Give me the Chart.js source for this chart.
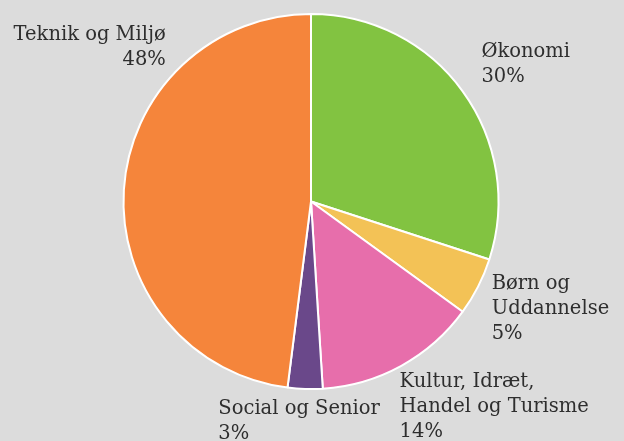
<!DOCTYPE html>
<html>
<head>
<meta charset="utf-8">
<script src="https://cdn.jsdelivr.net/npm/chart.js@4"></script>
<style>
	html, body { margin: 0; padding: 0; background: #dcdcdc; }
	#wrap { width: 624px; height: 441px; }
</style>
</head>
<body>
<div id="wrap"><canvas id="pieChart"></canvas></div>
<script>
// data
const categories = ['Økonomi', 'Børn og Uddannelse', 'Kultur, Idræt, Handel og Turisme', 'Social og Senior', 'Teknik og Miljø'];
const shares = [30, 5, 14, 3, 48];
const labelLines = [
	['Økonomi', '30%'],
	['Børn og', 'Uddannelse', '5%'],
	['Kultur, Idræt,', 'Handel og Turisme', '14%'],
	['Social og Senior', '3%'],
	['Teknik og Miljø', '48%']
];

const sliceColors = ['#82c341', '#f3c256', '#e76eab', '#6a488a', '#f5853b'];

// where each label sits: angle from 12 o'clock (deg), distance as share of radius
const labelSpots = [
	{ angle: 48.7, dist: 1.21, align: 'left' },
	{ angle: 114.6, dist: 1.06, align: 'left' },
	{ angle: 153.8, dist: 1.07, align: 'left' },
	{ angle: 204.1, dist: 1.21, align: 'left' },
	{ angle: 319, dist: 1.18, align: 'right' }
];

const outsideLabels = {
	id: 'outsideLabels',
	afterDatasetsDraw(chart) {
		const ctx = chart.ctx;
		const arcs = chart.getDatasetMeta(0).data;
		if (!arcs.length) return;
		const { x: cx, y: cy, outerRadius: r } = arcs[0].getProps(['x', 'y', 'outerRadius'], true);
		ctx.save();
		ctx.font = '19.5px "DejaVu Serif"';
		ctx.fillStyle = '#2e2e2e';
		ctx.textBaseline = 'middle';
		labelLines.forEach((lines, i) => {
			const spot = labelSpots[i];
			const a = spot.angle * Math.PI / 180;
			const px = cx + spot.dist * r * Math.sin(a);
			const py = cy - spot.dist * r * Math.cos(a);
			ctx.textAlign = spot.align;
			lines.forEach((t, j) => ctx.fillText(t, px, py + j * 25));
		});
		ctx.restore();
	}
};

new Chart(document.getElementById('pieChart'), {
	type: 'pie',
	data: {
		labels: categories,
		datasets: [{
			data: shares,
			backgroundColor: sliceColors,
			borderColor: '#ffffff',
			borderWidth: 2
		}]
	},
	options: {
		responsive: true,
		maintainAspectRatio: false,
		animation: false,
		layout: { padding: { top: 13, bottom: 51, left: 0, right: 2 } },
		plugins: {
			legend: { display: false },
			tooltip: { enabled: false }
		}
	},
	plugins: [outsideLabels]
});
</script>
</body>
</html>
